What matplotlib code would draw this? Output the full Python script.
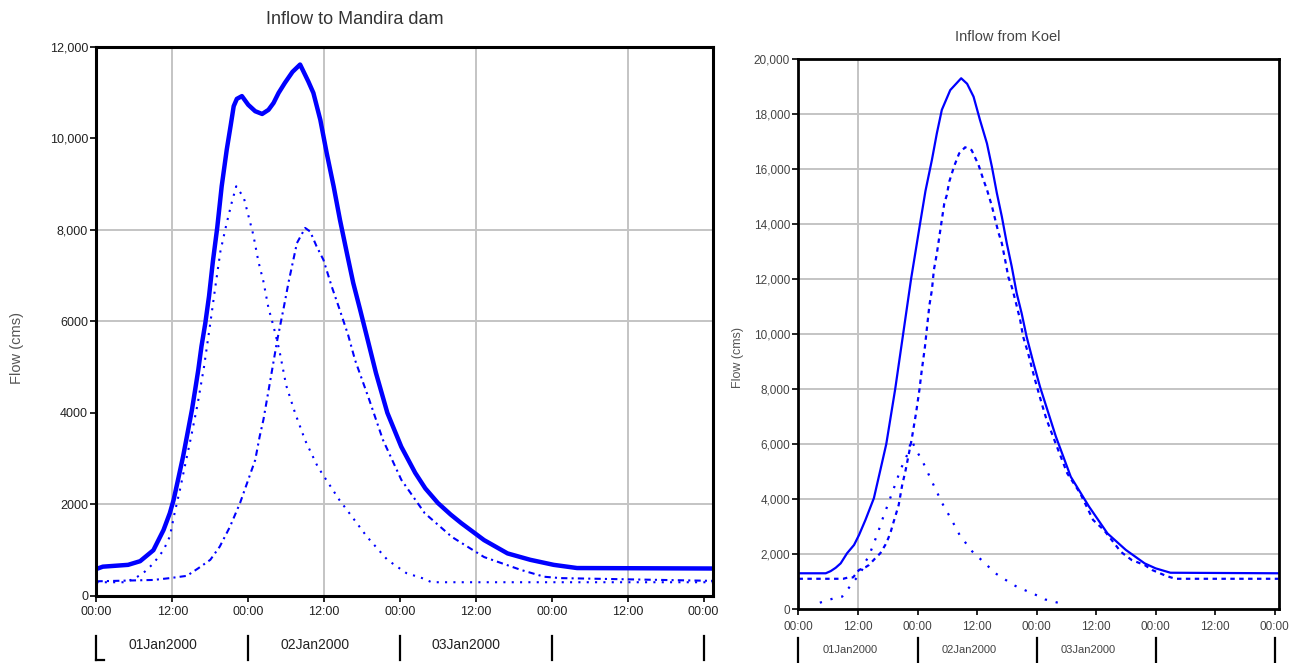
import matplotlib
matplotlib.use('Agg')
import matplotlib.pyplot as plt
import matplotlib.transforms as mtransforms

# hours from 01Jan2000 00:00, flow in cms
mandira_total_t = [0, 1, 5, 6.9, 9, 10.6, 11.6, 12.2, 12.9, 13.7, 14.5, 15.1, 15.6, 16.1, 16.6, 17.2, 17.8,
                   18.4, 19.1, 19.8, 20.6, 21.2, 21.7, 22.2, 23, 24, 25.1, 26.2, 27.2, 28, 28.8, 29.8, 31,
                   32.2, 33.5, 34.3, 35.4, 36.4, 37.5, 38.5, 39.6, 40.6, 41.7, 42.7, 44.2, 46, 48.2, 50.4,
                   52, 54, 56, 57.7, 61.3, 65, 68.6, 72.3, 76, 97.5]
mandira_total_q = [590, 640, 680, 760, 1000, 1440, 1810, 2100, 2540, 3050, 3630, 4070, 4500, 4940, 5450,
                   5950, 6550, 7300, 8050, 8950, 9750, 10260, 10700, 10860, 10920, 10730, 10590, 10530,
                   10620, 10770, 10990, 11210, 11450, 11610, 11240, 10990, 10400, 9680, 8950, 8220, 7490,
                   6840, 6250, 5700, 4870, 4000, 3260, 2690, 2350, 2030, 1780, 1590, 1220, 930, 790, 680,
                   610, 600]

mandira_trib1_t = [0, 4.5, 6, 7.4, 9, 10.6, 11.6, 12.4, 13.2, 14, 15, 16, 17, 18, 18.8, 19.6, 20.6, 21.4,
                   22.1, 23.3, 24.8, 25.6, 26.4, 27.2, 28, 28.9, 30, 31.4, 33, 35, 38.4, 40.2, 42.8, 46,
                   49, 51.5, 53, 97.5]
mandira_trib1_q = [300, 300, 380, 500, 710, 1000, 1300, 1840, 2320, 2850, 3500, 4200, 5000, 5960, 6760,
                   7530, 8150, 8600, 8950, 8700, 7890, 7310, 6870, 6290, 5890, 5380, 4600, 4000, 3400,
                   2820, 2100, 1770, 1290, 790, 500, 390, 300, 300]

mandira_trib2_t = [0, 9, 11.6, 14.3, 16.1, 18, 19.5, 21.1, 22.7, 23.8, 25.1, 25.8, 26.4, 27.5, 28.6, 29.6,
                   30.4, 31.7, 33, 33.8, 34.8, 35.9, 37.2, 38.3, 39.8, 40.9, 43.1, 45.3, 48.2, 51.9, 56.2,
                   61.3, 67.1, 70.8, 73.4, 97.5]
mandira_trib2_q = [320, 350, 390, 440, 605, 790, 1080, 1510, 2030, 2460, 2970, 3480, 3850, 4720, 5600,
                   6290, 6870, 7710, 8040, 7960, 7640, 7340, 6760, 6320, 5700, 5150, 4300, 3410, 2540,
                   1810, 1290, 850, 570, 420, 390, 330]

koel_total_t = [0, 5.5, 6.5, 7.5, 8.5, 9.8, 11.2, 12.2, 13.5, 15.2, 16.5, 17.7, 18.6, 19.5, 20.3, 21.1,
                21.9, 22.7, 23.6, 24.5, 25.6, 26.9, 27.9, 28.9, 30.6, 32.8, 34, 35.3, 36.6, 38, 39, 40,
                41, 42, 43, 44, 45, 46, 47.4, 48.7, 51.9, 54.9, 58.6, 62.3, 66, 69.8, 72, 75, 96.8]
koel_total_q = [1300, 1300, 1380, 1500, 1660, 2030, 2330, 2690, 3240, 4030, 5050, 6000, 7000, 8000, 9000,
                10000, 11000, 12000, 13000, 14000, 15200, 16330, 17300, 18150, 18870, 19300, 19100,
                18630, 17780, 16930, 16080, 15120, 14270, 13300, 12450, 11480, 10750, 9900, 8930, 8080,
                6270, 4810, 3720, 2750, 2150, 1660, 1480, 1320, 1300]

koel_routed_t = [0, 9, 10.1, 11, 12.2, 13.5, 14.2, 15.5, 16.5, 17.5, 18.1, 18.6, 19.1, 19.6, 20.2, 20.9,
                 21.6, 22.8, 23.7, 24.4, 24.8, 25.5, 26, 26.4, 26.9, 27.3, 27.9, 28.4, 28.9, 29.4, 29.9,
                 30.4, 31.4, 32.4, 33.6, 34.9, 36.3, 37.3, 38, 39, 40.3, 41, 41.8, 42.3, 43, 43.7, 44.7,
                 45.3, 46.3, 47, 47.7, 49, 50, 51.9, 54.2, 56.8, 59.4, 61.6, 65, 67.2, 69.8, 71.3, 74.2,
                 76, 96.8]
koel_routed_q = [1100, 1100, 1150, 1150, 1420, 1520, 1600, 1850, 2030, 2330, 2570, 2810, 3120, 3420, 3780,
                 4500, 5050, 6150, 7120, 8000, 8600, 9540, 10390, 11050, 11600, 12330, 12930, 13540,
                 14150, 14750, 15050, 15540, 16110, 16570, 16790, 16690, 16150, 15600, 15250, 14650,
                 13700, 13300, 12570, 12080, 11720, 11240, 10510, 9900, 9300, 8810, 8330, 7500, 6900,
                 6000, 4930, 4210, 3240, 2870, 2080, 1780, 1600, 1420, 1200, 1100, 1100]

koel_local_t = [4.3, 7.3, 8.8, 11, 12.2, 12.8, 13.5, 14.2, 16, 17, 18.1, 19.1, 20.6, 21.9, 22.8, 23.6,
                24.9, 27, 29, 30.7, 32.5, 35, 37.8, 39.7, 43.4, 44.3, 48.3, 49.7, 52.3, 53.4]
koel_local_q = [230, 400, 450, 970, 1240, 1420, 1720, 1930, 2770, 3300, 3840, 4330, 5080, 5600, 6150, 5810,
                5420, 4600, 3840, 3300, 2690, 2100, 1630, 1300, 870, 790, 480, 350, 230, 230]

hour_ticks = [0, 12, 24, 36, 48, 60, 72, 84, 96]
hour_labels = ['00:00', '12:00'] * 4 + ['00:00']
day_starts = [0, 24, 48, 72, 96]
day_labels = ['01Jan2000', '02Jan2000', '03Jan2000']

mandira_yticks = [0, 2000, 4000, 6000, 8000, 10000, 12000]
mandira_ylabels = ['0', '2000', '4000', '6000', '8,000', '10,000', '12,000']
mandira_hgrid = [2000, 6000, 8000]
mandira_vgrid = [12, 36, 60, 84]

koel_yticks = [0, 2000, 4000, 6000, 8000, 10000, 12000, 14000, 16000, 18000, 20000]
koel_ylabels = ['0', '2,000', '4,000', '6,000', '8,000', '10,000', '12,000', '14,000', '16,000',
                '18,000', '20,000']
koel_hgrid = koel_yticks[1:-1]
koel_vgrid = [12]

BLUE = '#0000ff'
GRID = '#c4c4c4'

plt.rcParams['font.family'] = ['Liberation Sans', 'DejaVu Sans']


def setup_axes(ax, xmax, ymax, yticks, ylabels, hgrid, vgrid, ysize, xsize, xpad, lw_spine, tcol):
    ax.set_xlim(0, xmax)
    ax.set_ylim(0, ymax)
    for y in hgrid:
        ax.axhline(y, color=GRID, lw=1.4, zorder=0)
    for x in vgrid:
        ax.axvline(x, color=GRID, lw=1.4, zorder=0)
    ax.set_yticks(yticks)
    ax.set_yticklabels(ylabels, fontsize=ysize, color=tcol)
    ax.set_xticks(hour_ticks)
    ax.set_xticklabels(hour_labels, fontsize=xsize, color=tcol)
    ax.tick_params(axis='both', direction='out', length=4, width=1.2, pad=2)
    ax.tick_params(axis='x', pad=xpad)
    for s in ax.spines.values():
        s.set_linewidth(lw_spine)
        s.set_color('black')


def date_row(ax, ylo, yhi, ytext, fsize, tcol):
    trans = mtransforms.blended_transform_factory(ax.transData, ax.transAxes)
    for d in day_starts:
        ax.plot([d, d], [ylo, yhi], color='black', lw=1.6, transform=trans, clip_on=False)
    for i, lab in enumerate(day_labels):
        ax.text(day_starts[i] + 10.5, ytext, lab, transform=trans, ha='center', va='center',
                fontsize=fsize, color=tcol)


fig = plt.figure(figsize=(12.95, 6.63), dpi=100)

# left panel: Mandira dam
ax1 = fig.add_axes([0.0745, 0.1011, 0.4761, 0.8285])
setup_axes(ax1, 97.5, 12000, mandira_yticks, mandira_ylabels, mandira_hgrid, mandira_vgrid,
           9, 9, 3.5, 2.2, '#222222')
ax1.plot(mandira_trib1_t, mandira_trib1_q, color=BLUE, lw=1.5, ls=(0, (1, 3)))
ax1.plot(mandira_trib2_t, mandira_trib2_q, color=BLUE, lw=1.5, ls=(0, (3, 2, 1, 2)))
ax1.plot(mandira_total_t, mandira_total_q, color=BLUE, lw=3.2)
ax1.plot([0, 1.2], [-0.117, -0.117], color='black', lw=1.6,
         transform=mtransforms.blended_transform_factory(ax1.transData, ax1.transAxes), clip_on=False)
date_row(ax1, -0.073, -0.117, -0.089, 10, '#222222')
fig.text(355 / 1295, 1 - 20 / 663, 'Inflow to Mandira dam', ha='center', va='center',
         fontsize=13, color='#333333')
fig.text(17 / 1295, 1 - 348 / 663, 'Flow (cms)', rotation=90, ha='center', va='center',
         fontsize=10.5, color='#555555')

# right panel: Koel
ax2 = fig.add_axes([0.6166, 0.0814, 0.3707, 0.8296])
setup_axes(ax2, 96.8, 20000, koel_yticks, koel_ylabels, koel_hgrid, koel_vgrid,
           8.5, 8.5, 4.5, 2.0, '#444444')
ax2.plot(koel_local_t, koel_local_q, color=BLUE, lw=1.6, ls=(0, (1, 4)))
ax2.plot(koel_routed_t, koel_routed_q, color=BLUE, lw=1.6, ls=(0, (2, 2)))
ax2.plot(koel_total_t, koel_total_q, color=BLUE, lw=1.6)
date_row(ax2, -0.053, -0.098, -0.075, 8, '#444444')
fig.text(1008 / 1295, 1 - 37 / 663, 'Inflow from Koel', ha='center', va='center',
         fontsize=10.5, color='#444444')
fig.text(738 / 1295, 1 - 358 / 663, 'Flow (cms)', rotation=90, ha='center', va='center',
         fontsize=9, color='#555555')

fig.savefig('out.png', dpi=100)
